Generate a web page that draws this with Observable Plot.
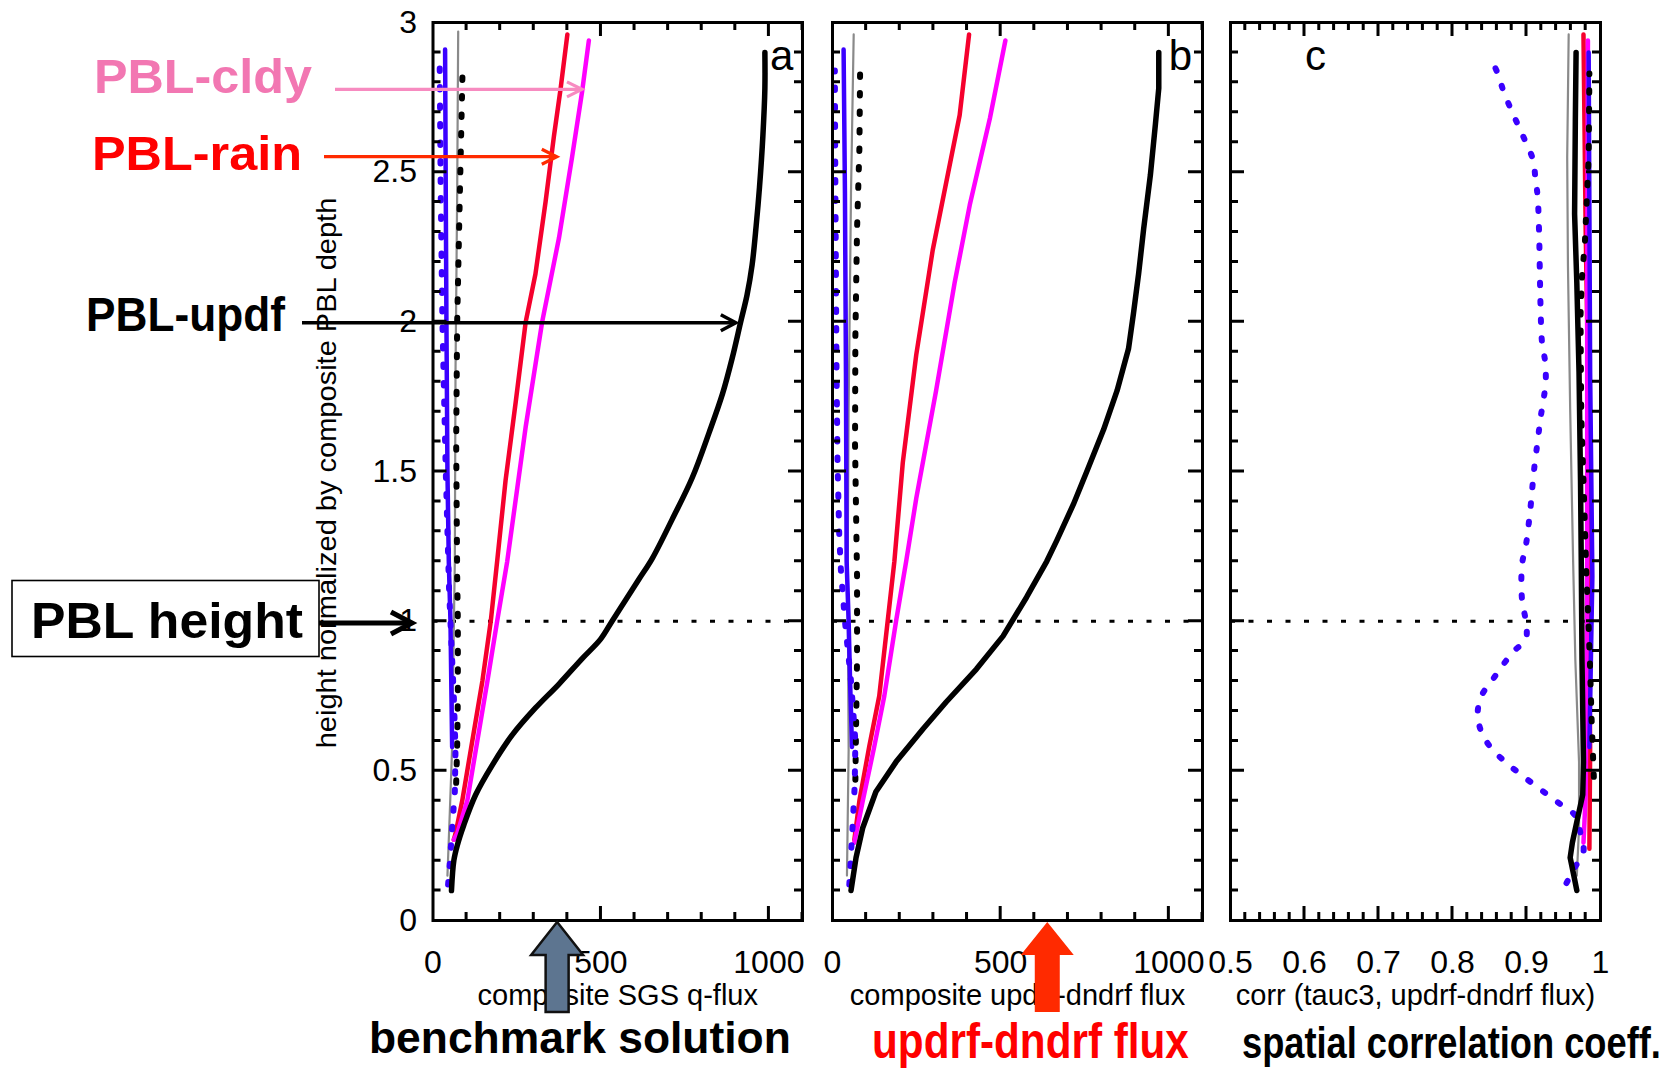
<!DOCTYPE html>
<html>
<head>
<meta charset="utf-8">
<script src="https://cdn.jsdelivr.net/npm/d3@7"></script>
<script src="https://cdn.jsdelivr.net/npm/@observablehq/plot@0.6"></script>
<style>
  html, body { margin: 0; padding: 0; background: #fff; }
  #fig { position: relative; width: 1677px; height: 1071px; overflow: hidden; background: #fff; }
  #fig > svg { position: absolute; top: 0; overflow: visible; }
</style>
</head>
<body>
<div id="fig"></div>
<script>
// Profiles are [x, height] pairs; height is normalized by the composite PBL depth.

// (a) composite SGS q-flux
const aUpdf     = [[55,0.10],[62,0.20],[72,0.25],[92,0.32],[127,0.42],[177,0.52],[236,0.62],[305,0.71],[375,0.79],[444,0.875],[499,0.94],[533,1.0],[573,1.07],[613,1.14],[653,1.21],[712,1.34],[772,1.48],[822,1.63],[862,1.76],[891,1.88],[916,2.0],[935,2.09],[950,2.19],[962,2.32],[972,2.45],[982,2.62],[988,2.78],[988,2.90]];
const aRain     = [[62,0.27],[67,0.29],[87,0.40],[117,0.60],[147,0.80],[172,1.0],[191,1.2],[216,1.47],[246,1.73],[276,2.0],[305,2.16],[335,2.40],[360,2.62],[380,2.78],[400,2.96]];
const aCldy     = [[62,0.27],[72,0.29],[102,0.40],[132,0.60],[162,0.80],[191,1.0],[221,1.2],[276,1.65],[325,2.0],[375,2.28],[414,2.55],[444,2.77],[464,2.94]];
const aBlue     = [[57,0.58],[52,1.0],[47,1.2],[43,1.5],[40,2.0],[38,2.43],[36,2.91]];
const aBlueDot  = [[45,0.12],[50,0.19],[57,0.31],[65,0.43],[67,0.57],[62,0.75],[55,0.92],[48,1.1],[38,1.5],[28,2.0],[23,2.43],[20,2.85]];
const aBlackDot = [[69,0.46],[72,0.58],[74,0.75],[74,1.0],[72,1.15],[69,1.6],[72,2.0],[80,2.43],[88,2.84]];
const aGray     = [[43,0.15],[50,0.36],[57,0.58],[62,0.98],[65,1.2],[67,1.83],[72,2.43],[75,2.97]];

// (b) composite updrf-dndrf flux
const bUpdf     = [[55,0.10],[70,0.21],[90,0.31],[129,0.43],[189,0.53],[269,0.64],[338,0.73],[428,0.84],[507,0.95],[577,1.08],[637,1.2],[667,1.27],[716,1.39],[756,1.50],[806,1.64],[846,1.77],[880,1.91],[895,2.03],[910,2.16],[925,2.31],[945,2.49],[960,2.66],[970,2.78],[970,2.90]];
const bRain     = [[65,0.27],[80,0.40],[109,0.58],[139,0.75],[164,1.0],[184,1.2],[209,1.53],[249,1.89],[298,2.24],[378,2.69],[406,2.96]];
const bCldy     = [[65,0.26],[90,0.40],[124,0.58],[154,0.75],[189,1.0],[219,1.2],[249,1.41],[308,1.77],[363,2.13],[408,2.39],[468,2.68],[514,2.94]];
const bBlue     = [[58,0.58],[52,0.81],[48,1.0],[42,1.2],[40,1.83],[37,2.43],[33,2.91]];
const bBlueDot  = [[50,0.12],[59,0.30],[66,0.45],[68,0.60],[55,0.80],[37,1.0],[25,1.17],[20,1.29],[15,1.53],[12,1.83],[10,2.19],[8,2.55],[7,2.84]];
const bBlackDot = [[68,0.47],[70,0.64],[73,0.87],[73,1.15],[67,1.59],[68,1.95],[73,2.31],[80,2.58],[82,2.83]];
const bGray     = [[43,0.15],[48,0.57],[45,1.15],[48,1.71],[55,2.43],[63,2.96]];

// (c) corr (tauc3, updrf-dndrf flux)
const cUpdf     = [[0.968,0.10],[0.964,0.15],[0.959,0.21],[0.962,0.26],[0.968,0.33],[0.976,0.42],[0.977,0.53],[0.975,0.87],[0.974,1.2],[0.973,1.47],[0.971,1.83],[0.968,2.13],[0.965,2.36],[0.966,2.67],[0.967,2.90]];
const cRain     = [[0.985,0.24],[0.986,0.58],[0.984,1.2],[0.982,2.0],[0.980,2.3],[0.977,2.96]];
const cCldy     = [[0.977,0.26],[0.980,0.42],[0.982,1.2],[0.982,2.07],[0.983,2.94]];
const cBlue     = [[0.985,0.58],[0.987,0.87],[0.989,1.15],[0.986,1.83],[0.984,2.90]];
const cBlueDot  = [[0.954,0.125],[0.966,0.18],[0.977,0.23],[0.973,0.29],[0.966,0.35],[0.947,0.386],[0.927,0.423],[0.907,0.46],[0.886,0.50],[0.868,0.537],[0.851,0.58],[0.839,0.63],[0.834,0.69],[0.839,0.75],[0.853,0.80],[0.867,0.85],[0.883,0.90],[0.899,0.94],[0.899,1.0],[0.894,1.07],[0.894,1.19],[0.899,1.25],[0.905,1.37],[0.910,1.50],[0.916,1.62],[0.919,1.68],[0.923,1.74],[0.926,1.80],[0.925,1.87],[0.921,1.93],[0.919,2.05],[0.918,2.17],[0.917,2.30],[0.915,2.42],[0.912,2.48],[0.909,2.54],[0.899,2.60],[0.889,2.655],[0.879,2.71],[0.869,2.77],[0.861,2.83],[0.851,2.885]];
const cBlackDot = [[0.991,0.48],[0.988,0.67],[0.986,0.84],[0.984,0.98],[0.981,1.15],[0.977,1.47],[0.974,1.69],[0.973,2.02],[0.974,2.09],[0.975,2.15],[0.979,2.27],[0.984,2.55],[0.985,2.83]];
const cGray     = [[0.968,0.15],[0.971,0.31],[0.971,0.53],[0.966,0.87],[0.963,1.2],[0.959,1.71],[0.956,2.19],[0.955,2.55],[0.957,2.96]];

// Axis ticks and titles
const fluxTickLabels = [0, 500, 1000];
const corrTickLabels = [0.5, 0.6, 0.7, 0.8, 0.9, 1];
const heightTickLabels = [0, 0.5, 1, 1.5, 2, 2.5, 3];
const xTitles = ["composite SGS q-flux", "composite updrf-dndrf flux", "corr (tauc3, updrf-dndrf flux)"];
const panelTags = ["a", "b", "c"];
const yTitle = "height normalized by composite PBL depth";

// Line styles shared by the three panels
const STYLE = {
  gray:     {stroke: "#8a8a8a", strokeWidth: 2.2},
  rain:     {stroke: "#f5002d", strokeWidth: 4.5},
  cldy:     {stroke: "#ff00ff", strokeWidth: 4.5},
  blue:     {stroke: "#3a00ff", strokeWidth: 4.5},
  blackDot: {stroke: "#000", strokeWidth: 6, strokeDasharray: "2.5 16"},
  blueDot:  {stroke: "#3a00ff", strokeWidth: 6, strokeDasharray: "2.5 16"},
  updf:     {stroke: "#000", strokeWidth: 5.5}
};

const H = 1071, TOP = 22, BOTTOM = 151;
const FONT = "'Liberation Sans', Arial, Helvetica, sans-serif";
const fig = document.getElementById("fig");

const yMinor = d3.range(1, 30).map(i => i / 10).filter(v => Math.abs(v * 2 - Math.round(v * 2)) > 1e-6);
const yMajor = [0.5, 1, 1.5, 2, 2.5];
const MINOR_LEN = 8, MAJOR_LEN = 14, TICK_W = 3;

// Inward ticks on all four sides of the frame, placed with the plot's own scales.
function inwardTicks(xMinor, xMajor) {
  return (index, scales, values, dims) => {
    const {width, height, marginTop, marginRight, marginBottom, marginLeft} = dims;
    const top = marginTop, bottom = height - marginBottom, left = marginLeft, right = width - marginRight;
    let d = "";
    for (const [vals, len] of [[xMinor, MINOR_LEN], [xMajor, MAJOR_LEN]])
      for (const v of vals) { const px = scales.x(v); d += `M${px},${bottom}v${-len}M${px},${top}v${len}`; }
    for (const [vals, len] of [[yMinor, MINOR_LEN], [yMajor, MAJOR_LEN]])
      for (const v of vals) { const py = scales.y(v); d += `M${left},${py}h${len}M${right},${py}h${-len}`; }
    const path = document.createElementNS("http://www.w3.org/2000/svg", "path");
    path.setAttribute("d", d);
    path.setAttribute("fill", "none");
    path.setAttribute("stroke", "#000");
    path.setAttribute("stroke-width", TICK_W);
    return path;
  };
}

function panel({left, width, marginLeft, marginRight, domain, minor, major, labels, series, title, tag, tagX, showY, curveMap = {}}) {
  const marks = [Plot.ruleY([1], {stroke: "#000", strokeWidth: 3, strokeDasharray: "5 13.5"})];
  for (const [key, data] of series) {
    marks.push(Plot.line(data, {
      x: d => d[0], y: d => d[1],
      ...STYLE[key],
      strokeLinecap: "round", strokeLinejoin: "round",
      curve: curveMap[key] || "linear"
    }));
  }
  marks.push(
    inwardTicks(minor, major),
    Plot.frame({stroke: "#000", strokeWidth: 3}),
    Plot.axisX(labels, {tickSize: 0, tickPadding: 30, fontSize: 32, tickFormat: d => String(d)}),
    Plot.text([title], {frameAnchor: "bottom", dy: 84, fontSize: 29, text: d => d}),
    Plot.text([tag], {x: tagX, y: 2.886, fontSize: 42, text: d => d})
  );
  if (showY) {
    marks.push(Plot.axisY(heightTickLabels, {anchor: "left", tickSize: 0, tickPadding: 16, fontSize: 32, tickFormat: d => String(d)}));
  }
  const chart = Plot.plot({
    width, height: H, marginLeft, marginRight, marginTop: TOP, marginBottom: BOTTOM,
    x: {domain, axis: null, label: null},
    y: {domain: [0, 3], axis: null, label: null},
    style: {fontFamily: FONT, fontSize: "30px", color: "#000", background: "transparent", overflow: "visible"},
    marks
  });
  chart.style.left = left + "px";
  fig.appendChild(chart);
  return {chart, left, sx: v => left + chart.scale("x").apply(v), sy: v => chart.scale("y").apply(v)};
}

const fluxMinor = d3.range(1, 12).map(i => i * 100).filter(v => v !== 500 && v !== 1000);
const fluxMajor = [500, 1000];
const corrMinor = d3.range(1, 25).map(i => 0.5 + i * 0.02).filter(v => Math.abs(v * 10 - Math.round(v * 10)) > 1e-6);
const corrMajor = [0.6, 0.7, 0.8, 0.9];

const order = (u, r, c, b, bd, k, g) => [["gray", g], ["rain", r], ["cldy", c], ["blue", b], ["blackDot", k], ["blueDot", bd], ["updf", u]];

const A = panel({left: 0, width: 812, marginLeft: 432.5, marginRight: 10, domain: [0, 1100],
  minor: fluxMinor, major: fluxMajor, labels: fluxTickLabels, title: xTitles[0], tag: panelTags[0], tagX: 1038, showY: true,
  series: order(aUpdf, aRain, aCldy, aBlue, aBlueDot, aBlackDot, aGray), curveMap: {updf: "catmull-rom"}});
const B = panel({left: 812, width: 400, marginLeft: 20, marginRight: 10, domain: [0, 1100],
  minor: fluxMinor, major: fluxMajor, labels: fluxTickLabels, title: xTitles[1], tag: panelTags[1], tagX: 1034,
  series: order(bUpdf, bRain, bCldy, bBlue, bBlueDot, bBlackDot, bGray)});
const C = panel({left: 1212, width: 465, marginLeft: 18, marginRight: 77, domain: [0.5, 1],
  minor: corrMinor, major: corrMajor, labels: corrTickLabels, title: xTitles[2], tag: panelTags[2], tagX: 0.615,
  series: order(cUpdf, cRain, cCldy, cBlue, cBlueDot, cBlackDot, cGray), curveMap: {blueDot: "catmull-rom"}});

// ---- annotation layer ----
const ov = d3.select(fig).append("svg")
  .attr("width", 1677).attr("height", H)
  .style("position", "absolute").style("left", "0px").style("top", "0px")
  .style("font-family", FONT);

// Text squeezed or stretched horizontally to a given width.
function label(text, x, baseline, size, len, fill, weight = "bold") {
  const t = ov.append("text").attr("x", 0).attr("y", 0)
    .attr("font-size", size).attr("font-weight", weight).attr("fill", fill)
    .text(text);
  const k = len / t.node().getComputedTextLength();
  t.attr("transform", `translate(${x},${baseline}) scale(${k},1)`);
}
function openArrow(x1, y1, x2, y2, color, w, len, half) {
  const a = Math.atan2(y2 - y1, x2 - x1), c = Math.cos(a), s = Math.sin(a);
  const bx = x2 - len * c, by = y2 - len * s;
  ov.append("line").attr("x1", x1).attr("y1", y1).attr("x2", x2 - 1.5 * c).attr("y2", y2 - 1.5 * s)
    .attr("stroke", color).attr("stroke-width", w);
  ov.append("path")
    .attr("d", `M${bx - half * s},${by + half * c}L${x2},${y2}L${bx + half * s},${by - half * c}`)
    .attr("fill", "none").attr("stroke", color).attr("stroke-width", w).attr("stroke-linejoin", "miter");
}
function blockArrow(cx, tipY, headY, bottomY, headHalf, shaftHalf, fill, stroke) {
  const p = [[cx, tipY], [cx + headHalf, headY], [cx + shaftHalf, headY], [cx + shaftHalf, bottomY],
             [cx - shaftHalf, bottomY], [cx - shaftHalf, headY], [cx - headHalf, headY]];
  ov.append("path").attr("d", "M" + p.map(q => q.join(",")).join("L") + "Z")
    .attr("fill", fill).attr("stroke", stroke || "none").attr("stroke-width", stroke ? 2.5 : 0)
    .attr("stroke-linejoin", "miter");
}

// y-axis title (rotated)
{
  const t = ov.append("text").attr("text-anchor", "middle").attr("font-size", 27).text(yTitle);
  const k = 551 / t.node().getComputedTextLength();
  t.attr("transform", `translate(336,473) rotate(-90) scale(${k},1)`);
}

// series call-outs pointing at their profiles in panel a
label("PBL-cldy", 94, 93, 48, 218, "#f277b2");
openArrow(335, A.sy(2.775), A.sx(445), A.sy(2.775), "#f78bc0", 3.2, 15, 7.5);
label("PBL-rain", 92, 170, 48, 210, "#ff0000");
openArrow(324, A.sy(2.55), A.sx(370), A.sy(2.55), "#ff2a00", 3.2, 15, 7.5);
label("PBL-updf", 86, 331, 48, 199, "#000");
openArrow(302, A.sy(1.995), A.sx(903), A.sy(1.995), "#000", 3.5, 15, 8);

// PBL height box and arrow
ov.append("rect").attr("x", 12).attr("y", 580.5).attr("width", 307).attr("height", 76)
  .attr("fill", "none").attr("stroke", "#000").attr("stroke-width", 1.6);
label("PBL height", 31, 638, 50, 272, "#000");
openArrow(319, A.sy(0.992), 412, A.sy(0.992), "#000", 5, 21, 11);

// bottom call-outs
blockArrow(A.sx(371), 922, 955, 1012, 26, 11.5, "#5d7590", "#111");
blockArrow(B.sx(640), 922, 955, 1012, 26.5, 12.5, "#ff2a00");
label("benchmark solution", 369, 1053, 44, 422, "#000");
label("updrf-dndrf flux", 872, 1058, 50, 317, "#ff0000");
label("spatial correlation coeff.", 1242, 1058, 44, 419, "#000");
</script>
</body>
</html>
